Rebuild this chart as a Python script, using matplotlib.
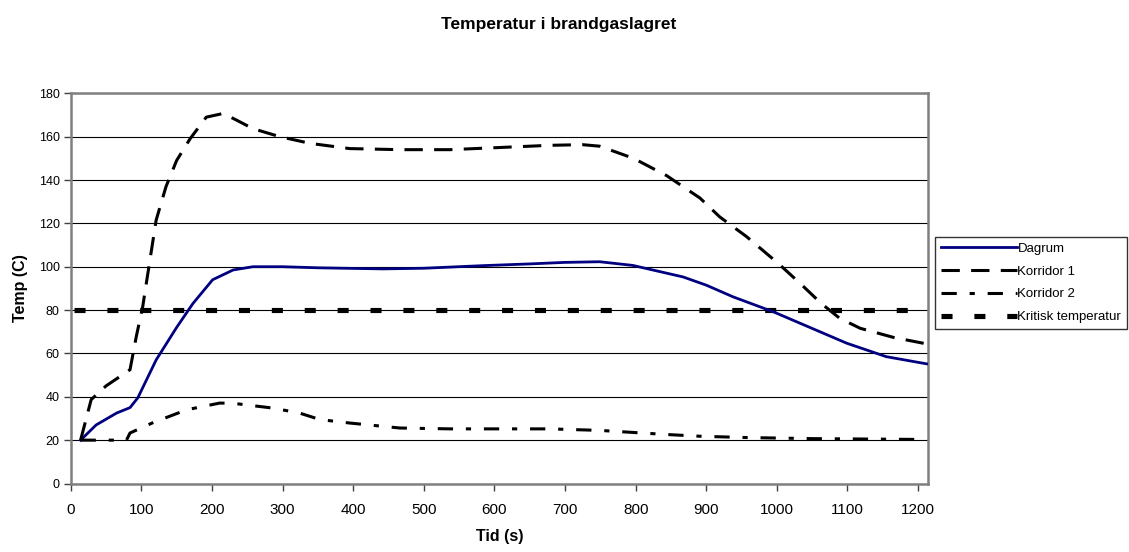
import matplotlib
matplotlib.use("Agg")
import matplotlib.pyplot as plt

plt.rcParams['font.family'] = ['Liberation Sans', 'DejaVu Sans']

# tid (s) och temperatur (C) i brandgaslagret
dagrum_t = [14, 36, 65, 84, 95, 121, 150, 173, 201, 230, 258, 300, 350, 442, 500,
            584, 650, 700, 749, 796, 867, 900, 938, 995, 1061, 1099, 1155, 1212]
dagrum_T = [20, 27, 32.5, 35, 39.5, 57, 72, 83, 94, 98.5, 100, 100, 99.5, 99, 99.3,
            100.5, 101.3, 102, 102.3, 100.6, 95.3, 91.5, 86.1, 79.2, 70, 64.7, 58.5, 55.2]

korr1_t = [14, 29, 50, 84, 93, 102, 110, 121, 135, 150, 169, 192, 216, 235, 258, 296,
           339, 395, 466, 537, 608, 678, 725, 749, 797, 844, 891, 919, 957, 1002, 1033,
           1063, 1089, 1118, 1165, 1212]
korr1_T = [20, 38.7, 45, 52.5, 68, 81.6, 98.5, 121.5, 137, 149, 159, 169, 170.7, 167.6,
           163.7, 160, 156.9, 154.5, 154, 154, 155, 156, 156.3, 155.6, 150, 142, 131.7,
           123, 113.9, 101.5, 92.3, 83, 76.2, 71.6, 67.4, 64.4]

korr2_t = [14, 79, 84, 116, 164, 211, 230, 286, 324, 353, 395, 466, 537, 678, 749, 844,
           891, 957, 1051, 1212]
korr2_T = [20, 20, 23.3, 28, 34, 37.1, 37, 34.8, 32.5, 29.5, 27.9, 25.6, 25.2, 25.2,
           24.5, 22.6, 21.8, 21.2, 20.7, 20.3]

krit_t = [5, 1212]
krit_T = [80, 80]

x_ticks = list(range(0, 1201, 100))
y_ticks = list(range(0, 181, 20))

fig = plt.figure(figsize=(11.29, 5.52), dpi=100)
ax = fig.add_axes([70.7 / 1129, 1 - 483.5 / 552, (928 - 70.7) / 1129, (483.5 - 93.3) / 552])

ax.plot(dagrum_t, dagrum_T, color='#000080', lw=2.0, label='Dagrum', zorder=4)
ax.plot(korr1_t, korr1_T, color='black', lw=2.2, linestyle=(0, (6, 3.7)),
        dash_capstyle='butt', label='Korridor 1', zorder=4)
ax.plot(korr2_t, korr2_T, color='black', lw=2.2, linestyle=(0, (5, 4.2, 1.7, 4.2)),
        dash_capstyle='butt', label='Korridor 2', zorder=4)
ax.plot(krit_t, krit_T, color='black', lw=3.7, linestyle=(0, (2.15, 4.25)),
        dash_capstyle='butt', label='Kritisk temperatur', zorder=3)

ax.set_xlim(0, 1214)
ax.set_ylim(0, 180)
ax.set_xticks(x_ticks)
ax.set_yticks(y_ticks)
ax.tick_params(axis='x', labelsize=11, direction='out', length=5, width=1, color='#404040', pad=9)
ax.tick_params(axis='y', labelsize=9, direction='out', length=5, width=1, color='#404040', pad=3)
ax.yaxis.grid(True, color='black', lw=0.8)
ax.set_axisbelow(True)
for s in ax.spines.values():
    s.set_color('#808080')
    s.set_linewidth(1.8)

fig.text(559 / 1129, 1 - 25 / 552, 'Temperatur i brandgaslagret', ha='center', va='center',
         fontsize=12.5, fontweight='bold')
fig.text(21 / 1129, 1 - 288 / 552, 'Temp (C)', ha='center', va='center', rotation=90,
         fontsize=11.5, fontweight='bold')
fig.text(500 / 1129, 1 - 537 / 552, 'Tid (s)', ha='center', va='center',
         fontsize=11.5, fontweight='bold')

leg = fig.legend(loc='upper left', bbox_to_anchor=(935 / 1129, 1 - 236.7 / 552),
                 fontsize=9.5, frameon=True, fancybox=False, handlelength=5.8,
                 handletextpad=0.0, labelspacing=0.8, borderpad=0.45, borderaxespad=0)
leg.get_frame().set_edgecolor('black')
leg.get_frame().set_linewidth(1.0)

fig.savefig('out.png', dpi=100)
